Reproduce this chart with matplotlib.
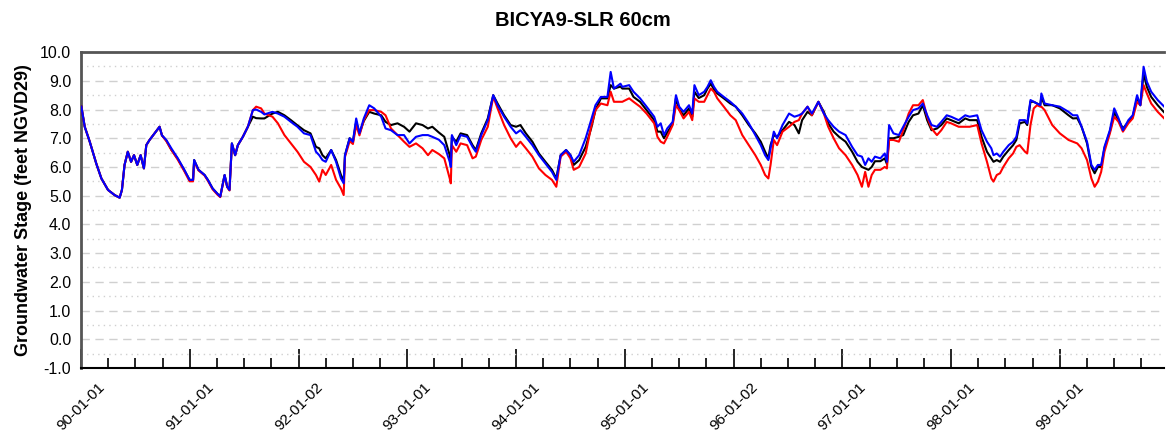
import matplotlib.pyplot as plt
from matplotlib.ticker import FixedLocator, MultipleLocator

plt.rcParams['font.family'] = ['Liberation Sans', 'DejaVu Sans']

# time in years since 1990-01-01, stage in feet NGVD29
t = [0.003, 0.034, 0.08, 0.14, 0.187, 0.248, 0.309, 0.355, 0.376, 0.40,
     0.43, 0.46, 0.487, 0.517, 0.548, 0.578, 0.60, 0.63, 0.676, 0.722,
     0.744, 0.784, 0.83, 0.89, 0.95, 0.998, 1.03, 1.04, 1.08, 1.136,
     1.166, 1.21, 1.258, 1.28, 1.32, 1.344, 1.365, 1.387, 1.417, 1.442,
     1.488, 1.534, 1.58, 1.61, 1.656, 1.686, 1.76, 1.81, 1.87, 1.93,
     1.99, 2.05, 2.11, 2.16, 2.19, 2.22, 2.25, 2.30, 2.345, 2.39,
     2.415, 2.427, 2.47, 2.5, 2.53, 2.56, 2.6, 2.65, 2.696, 2.76,
     2.80, 2.85, 2.91, 2.97, 3.02, 3.08, 3.14, 3.19, 3.23, 3.29,
     3.34, 3.39, 3.40, 3.41, 3.45, 3.49, 3.55, 3.6, 3.63, 3.68,
     3.74, 3.79, 3.83, 3.89, 3.95, 4.0, 4.04, 4.09, 4.15, 4.21,
     4.27, 4.33, 4.37, 4.41, 4.46, 4.5, 4.53, 4.58, 4.64, 4.69,
     4.73, 4.78, 4.84, 4.87, 4.9, 4.96, 4.977, 5.04, 5.08, 5.14,
     5.2, 5.27, 5.3, 5.33, 5.36, 5.39, 5.44, 5.47, 5.5, 5.54,
     5.59, 5.62, 5.64, 5.68, 5.73, 5.76, 5.79, 5.82, 5.85, 5.91,
     5.97, 6.02, 6.08, 6.14, 6.2, 6.25, 6.29, 6.32, 6.34, 6.37,
     6.4, 6.45, 6.51, 6.56, 6.6, 6.63, 6.68, 6.72, 6.78, 6.83,
     6.87, 6.92, 6.97, 7.03, 7.09, 7.14, 7.18, 7.21, 7.24, 7.27,
     7.3, 7.35, 7.39, 7.41, 7.43, 7.47, 7.52, 7.56, 7.61, 7.65,
     7.7, 7.74, 7.78, 7.82, 7.87, 7.91, 7.96, 8.0, 8.07, 8.13,
     8.17, 8.24, 8.28, 8.33, 8.37, 8.39, 8.42, 8.45, 8.48, 8.53,
     8.57, 8.6, 8.63, 8.68, 8.7, 8.73, 8.76, 8.79, 8.82, 8.83,
     8.86, 8.93, 9.0, 9.08, 9.12, 9.16, 9.2, 9.25, 9.29, 9.32,
     9.35, 9.38, 9.41, 9.46, 9.5, 9.54, 9.58, 9.63, 9.67, 9.71,
     9.74, 9.77, 9.8, 9.84, 9.9, 9.96]

blue = [8.1, 7.4, 6.88, 6.12, 5.6, 5.2, 5.02, 4.93, 5.2, 6.07,
        6.53, 6.18, 6.41, 6.07, 6.41, 5.95, 6.76, 6.94, 7.17, 7.4,
        7.1, 6.94, 6.65, 6.3, 5.9, 5.55, 5.55, 6.24, 5.9, 5.72,
        5.55, 5.25, 5.05, 4.97, 5.72, 5.31, 5.2, 6.82, 6.41, 6.76,
        7.05, 7.4, 7.98, 8.0, 7.92, 7.83, 7.92, 7.86, 7.75, 7.57,
        7.4, 7.17, 7.11, 6.53, 6.41, 6.24, 6.18, 6.59, 6.18, 5.6,
        5.43, 6.41, 7.0, 6.88, 7.69, 7.17, 7.69, 8.15, 8.04, 7.75,
        7.34, 7.28, 7.11, 7.11, 6.82, 7.05, 7.11, 7.11, 7.05, 6.95,
        6.76, 6.18, 6.0, 7.11, 6.76, 7.11, 7.05, 6.7, 6.53, 7.11,
        7.63, 8.5, 8.15, 7.75, 7.4, 7.17, 7.28, 7.05, 6.76, 6.41,
        6.12, 5.83, 5.55, 6.41, 6.59, 6.41, 6.18, 6.41, 7.0, 7.63,
        8.15, 8.44, 8.44, 9.31, 8.73, 8.9, 8.79, 8.85, 8.62, 8.39,
        8.1, 7.75, 7.4, 7.52, 7.11, 7.34, 7.57, 8.5, 8.1, 7.92,
        8.15, 7.86, 8.85, 8.5, 8.62, 8.79, 9.02, 8.79, 8.62, 8.44,
        8.27, 8.1, 7.86, 7.52, 7.11, 6.76, 6.41, 6.24, 6.65, 7.23,
        7.0, 7.46, 7.86, 7.75, 7.8, 7.86, 8.1, 7.86, 8.27, 7.86,
        7.63, 7.4, 7.23, 7.11, 6.7, 6.41, 6.36, 6.07, 6.3, 6.18,
        6.36, 6.3, 6.47, 6.18, 7.46, 7.17, 7.11, 7.4, 7.75, 7.98,
        8.04, 8.21, 7.8, 7.46, 7.4, 7.57, 7.8, 7.75, 7.63, 7.8,
        7.75, 7.8, 7.28, 6.88, 6.65, 6.41, 6.47, 6.36, 6.53, 6.76,
        6.88, 7.05, 7.63, 7.63, 7.52, 8.33, 8.27, 8.21, 8.15, 8.56,
        8.21, 8.15, 8.1, 7.92, 7.8, 7.8, 7.4, 6.88, 6.07, 5.9,
        6.07, 6.07, 6.7, 7.28, 8.04, 7.69, 7.28, 7.63, 7.8, 8.5,
        8.15, 9.49, 8.97, 8.62, 8.33, 8.1]

black = [8.1, 7.4, 6.88, 6.12, 5.6, 5.2, 5.02, 4.93, 5.2, 6.07,
         6.53, 6.18, 6.41, 6.07, 6.41, 5.95, 6.76, 6.94, 7.17, 7.4,
         7.1, 6.92, 6.6, 6.28, 5.88, 5.55, 5.55, 6.24, 5.9, 5.72,
         5.55, 5.25, 5.05, 4.97, 5.72, 5.31, 5.2, 6.82, 6.41, 6.76,
         7.05, 7.4, 7.75, 7.7, 7.69, 7.69, 7.86, 7.92, 7.8, 7.63,
         7.45, 7.28, 7.17, 6.7, 6.65, 6.41, 6.3, 6.59, 6.24, 5.72,
         5.5, 6.41, 7.0, 6.88, 7.57, 7.17, 7.6, 7.92, 7.86, 7.8,
         7.57, 7.46, 7.52, 7.4, 7.23, 7.52, 7.46, 7.34, 7.4, 7.2,
         7.05, 6.41, 6.2, 7.05, 6.88, 7.17, 7.11, 6.76, 6.59, 7.17,
         7.69, 8.5, 8.21, 7.8, 7.46, 7.4, 7.46, 7.17, 6.88, 6.47,
         6.18, 5.9, 5.6, 6.41, 6.59, 6.41, 6.07, 6.24, 6.7, 7.34,
         7.98, 8.39, 8.39, 8.85, 8.73, 8.8, 8.73, 8.73, 8.44, 8.27,
         7.98, 7.63, 7.23, 7.23, 7.0, 7.2, 7.5, 8.39, 8.0, 7.8,
         8.04, 7.75, 8.62, 8.4, 8.5, 8.73, 8.9, 8.7, 8.56, 8.39,
         8.21, 8.1, 7.8, 7.46, 7.17, 6.88, 6.53, 6.3, 6.76, 7.11,
         7.05, 7.28, 7.57, 7.46, 7.17, 7.63, 7.92, 7.8, 8.27, 7.92,
         7.52, 7.23, 7.05, 6.88, 6.53, 6.18, 6.0, 5.95, 5.9, 6.0,
         6.2, 6.2, 6.3, 6.1, 7.0, 7.0, 7.05, 7.11, 7.57, 7.8,
         7.86, 8.15, 7.63, 7.28, 7.34, 7.46, 7.69, 7.63, 7.52, 7.69,
         7.63, 7.63, 7.05, 6.53, 6.3, 6.18, 6.24, 6.18, 6.36, 6.59,
         6.76, 6.94, 7.52, 7.57, 7.46, 8.27, 8.27, 8.21, 8.15, 8.44,
         8.15, 8.15, 8.04, 7.8, 7.69, 7.7, 7.4, 6.82, 6.0, 5.78,
         6.0, 6.0, 6.65, 7.23, 7.9, 7.63, 7.34, 7.57, 7.75, 8.4,
         8.15, 9.25, 8.79, 8.44, 8.15, 7.9]

red = [8.1, 7.4, 6.88, 6.12, 5.6, 5.2, 5.02, 4.93, 5.2, 6.07,
       6.53, 6.18, 6.41, 6.07, 6.41, 5.95, 6.76, 6.94, 7.17, 7.4,
       7.1, 6.9, 6.6, 6.25, 5.85, 5.5, 5.5, 6.2, 5.88, 5.7,
       5.52, 5.22, 5.02, 4.95, 5.7, 5.3, 5.18, 6.8, 6.41, 6.76,
       7.05, 7.4, 7.98, 8.1, 8.04, 7.86, 7.75, 7.52, 7.11, 6.82,
       6.53, 6.18, 6.0, 5.72, 5.49, 5.9, 5.72, 6.07, 5.55, 5.25,
       5.02, 6.35, 6.9, 6.8, 7.46, 7.1, 7.63, 7.98, 7.98, 7.92,
       7.8, 7.34, 7.11, 6.88, 6.7, 6.82, 6.65, 6.41, 6.59, 6.45,
       6.3, 5.6, 5.43, 6.76, 6.53, 6.82, 6.76, 6.3, 6.36, 6.94,
       7.4, 8.45, 8.04, 7.46, 7.0, 6.7, 6.88, 6.65, 6.36, 5.95,
       5.72, 5.55, 5.31, 6.36, 6.53, 6.3, 5.9, 6.0, 6.47, 7.4,
       7.98, 8.21, 8.15, 8.62, 8.27, 8.27, 8.27, 8.39, 8.27, 8.1,
       7.86, 7.52, 7.05, 6.88, 6.82, 7.05, 7.46, 8.15, 7.98, 7.69,
       7.92, 7.63, 8.39, 8.27, 8.27, 8.5, 8.73, 8.62, 8.39, 8.1,
       7.8, 7.63, 7.11, 6.76, 6.41, 6.07, 5.72, 5.6, 6.07, 6.94,
       6.76, 7.23, 7.4, 7.57, 7.63, 7.86, 8.1, 7.8, 8.27, 7.86,
       7.4, 7.0, 6.65, 6.41, 6.07, 5.72, 5.31, 5.83, 5.31, 5.72,
       5.9, 5.9, 6.0, 5.95, 6.94, 6.94, 6.88, 7.28, 7.86, 8.15,
       8.15, 8.33, 7.75, 7.34, 7.11, 7.28, 7.57, 7.52, 7.4, 7.4,
       7.4, 7.46, 6.82, 6.18, 5.6, 5.49, 5.72, 5.78, 6.0, 6.3,
       6.47, 6.7, 6.76, 6.53, 6.47, 7.46, 8.04, 8.15, 8.1, 8.1,
       7.98, 7.46, 7.17, 6.94, 6.88, 6.82, 6.65, 6.24, 5.6, 5.31,
       5.49, 5.83, 6.53, 7.17, 7.75, 7.57, 7.23, 7.52, 7.69, 8.27,
       8.15, 8.85, 8.56, 8.21, 7.92, 7.69]

year_ticks = [0, 1, 2, 3, 4, 5, 6, 7, 8, 9]
year_labels = ['90-01-01', '91-01-01', '92-01-02', '93-01-01', '94-01-01',
               '95-01-01', '96-01-02', '97-01-01', '98-01-01', '99-01-01']

fig = plt.figure(figsize=(11.66, 4.38), dpi=100)
ax = fig.add_axes([0.0695, 0.16, 0.929, 0.721])

ax.plot(t, black, color='black', lw=1.5, zorder=3)
ax.plot(t, red, color='#ff0000', lw=1.5, zorder=4)
ax.plot(t, blue, color='#0000ff', lw=1.5, zorder=5)

ax.set_xlim(0, 9.96)
ax.set_ylim(-1, 10)

# horizontal grid: dashed at whole feet, dotted at half feet
ax.yaxis.set_major_locator(MultipleLocator(1))
ax.yaxis.set_minor_locator(MultipleLocator(0.5))
ax.grid(axis='y', which='major', color='#d0d0d0', ls=(0, (6, 4)), lw=1.0)
ax.grid(axis='y', which='minor', color='#d0d0d0', ls=(0, (1, 3)), lw=1.0)
ax.set_yticklabels(['%.1f' % v for v in ax.get_yticks()])
ax.tick_params(axis='y', which='both', length=0, pad=7, labelsize=11.5)

ax.xaxis.set_major_locator(FixedLocator(year_ticks))
ax.xaxis.set_minor_locator(MultipleLocator(0.25))
ax.set_xticklabels(year_labels, rotation=45, fontsize=11)
ax.tick_params(axis='x', which='major', direction='in', length=14, width=1.2, pad=9)
ax.tick_params(axis='x', which='minor', direction='in', length=7, width=1.2)

for side in ['top', 'left']:
    ax.spines[side].set_color('#555555')
    ax.spines[side].set_linewidth(2)
ax.spines['bottom'].set_linewidth(1.5)
ax.spines['right'].set_visible(False)

ax.set_ylabel('Groundwater Stage (feet NGVD29)', fontsize=13, fontweight='bold', labelpad=6)
fig.text(0.5, 0.953, 'BICYA9-SLR 60cm', ha='center', va='center',
         fontsize=14.5, fontweight='bold')

fig.savefig('out.png', dpi=100)
